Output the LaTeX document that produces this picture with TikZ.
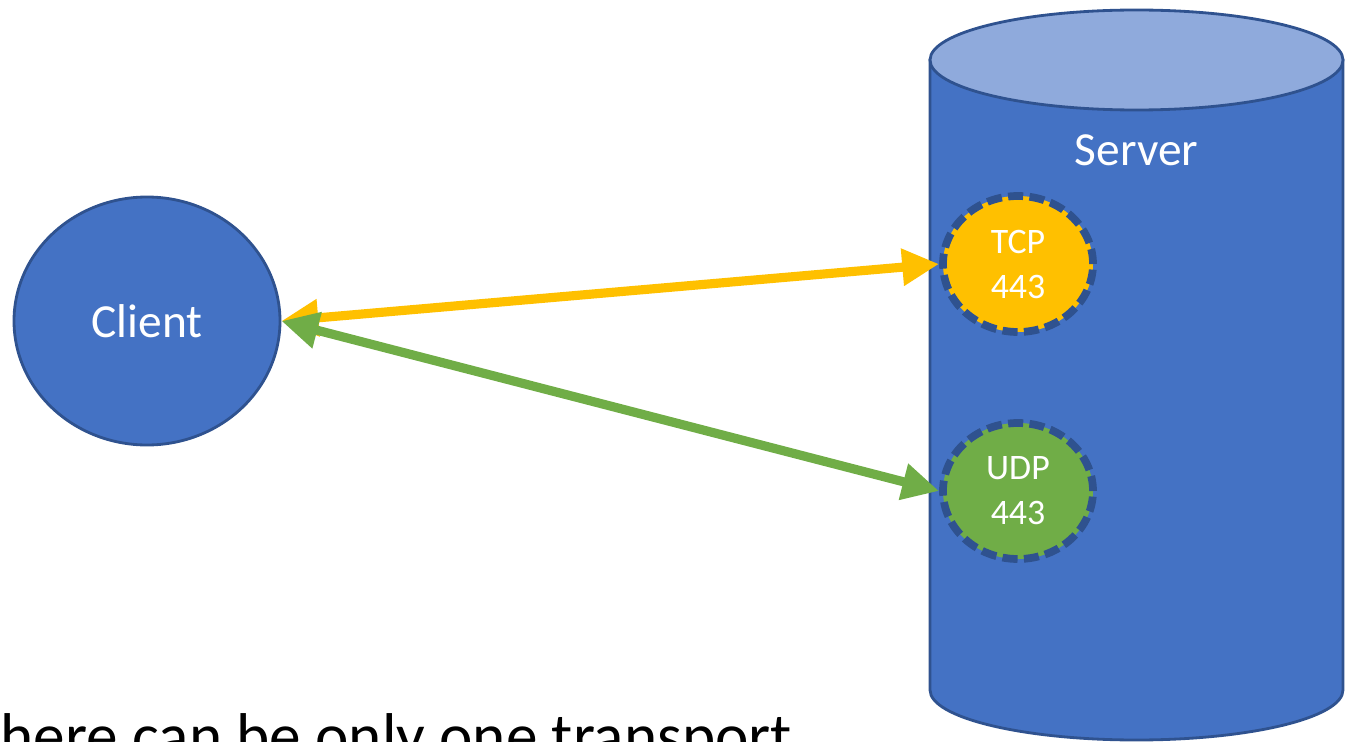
\documentclass[tikz,border=0pt]{standalone}
\usepackage{fontspec}
\setmainfont{Carlito}
\usetikzlibrary{arrows.meta,shapes.geometric}

\definecolor{serverblue}{HTML}{4472C4}
\definecolor{servertop}{HTML}{8FAADC}
\definecolor{edgeblue}{HTML}{2F528F}
\definecolor{tcpyellow}{HTML}{FFC000}
\definecolor{udpgreen}{HTML}{70AD47}

\begin{document}
\begin{tikzpicture}[
        port/.style={ellipse, draw=edgeblue, line width=2.2pt, dash pattern=on 4.3pt off 1.8pt,
            minimum width=1.50cm, minimum height=1.36cm, inner sep=0pt, text=white,
            align=center, font=\fontsize{10.2}{12.8}\selectfont},
        link/.style={line width=2.6pt, {Triangle[length=10.5pt,width=10pt]}-{Triangle[length=10.5pt,width=10pt]}}
    ]
        % Frame of the slide
        \useasboundingbox (0,0) rectangle (13.45,-7.42);
        \clip (0,0) rectangle (13.45,-7.42);

        % Server cylinder
        \filldraw[fill=serverblue, draw=edgeblue, line width=0.8pt]
            (9.30,-0.60) -- (9.30,-6.90)
            arc[start angle=180, end angle=360, x radius=2.065, y radius=0.50]
            -- (13.43,-0.60) -- cycle;
        \filldraw[fill=servertop, draw=edgeblue, line width=0.8pt]
            (11.365,-0.60) ellipse[x radius=2.065, y radius=0.50];
        \node[text=white, font=\fontsize{13.5}{16}\selectfont] (server) at (11.365,-1.50) {Server};

        % Client
        \node[ellipse, fill=serverblue, draw=edgeblue, line width=0.8pt, inner sep=0pt,
            minimum width=2.66cm, minimum height=2.48cm, text=white,
            font=\fontsize{13.5}{16}\selectfont] (client) at (1.47,-3.21) {Client};

        % Ports on the server
        \node[port, fill=tcpyellow] (tcp) at (10.18,-2.64) {TCP\\443};
        \node[port, fill=udpgreen] (udp) at (10.18,-4.91) {UDP\\443};

        % Connections
        \draw[link, tcpyellow] (client.east) -- (tcp.west);
        \draw[link, udpgreen] (client.east) -- (udp.west);

        % Caption (cut off at the slide edge)
        \node[anchor=base west, inner sep=0pt, font=\fontsize{18}{22}\selectfont] (caption)
            at (0,-7.57) {here can be only one transport};
    \end{tikzpicture}
\end{document}
